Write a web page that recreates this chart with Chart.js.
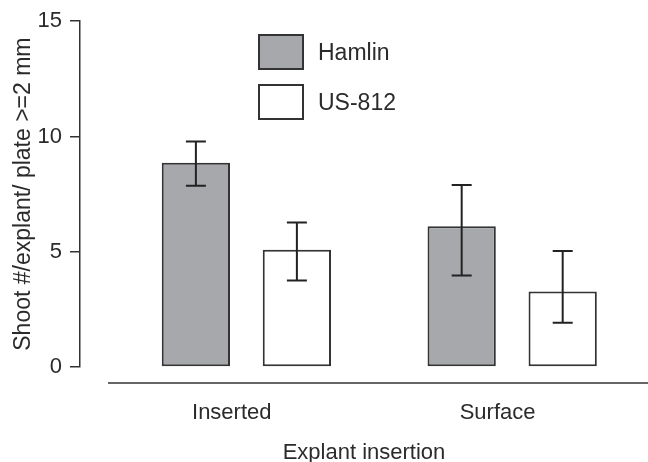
<!DOCTYPE html>
<html>
<head>
<meta charset="utf-8">
<script src="https://cdn.jsdelivr.net/npm/chart.js@4/dist/chart.umd.min.js"></script>
<style>
    body { margin: 0; background: #fff; }
    #wrap { position: relative; width: 648px; height: 462px; }
    .legend-item { position: absolute; display: flex; align-items: center; font-family: "Liberation Sans", Arial, sans-serif; font-size: 23px; color: #2b2b2b; }
    .legend-box { width: 46px; height: 36px; box-sizing: border-box; border: 2px solid #333; margin-right: 14px; }
</style>
</head>
<body>
<div id="wrap">
    <canvas id="chart" width="648" height="462"></canvas>
    <div id="legend"></div>
</div>
<script>
// data
const categories = ['Inserted', 'Surface'];
const seriesNames = ['Hamlin', 'US-812'];
const hamlinValues = [8.86, 6.10];
const hamlinLow = [7.86, 3.97];
const hamlinHigh = [9.78, 7.89];
const usValues = [5.09, 3.27];
const usLow = [3.75, 1.92];
const usHigh = [6.27, 5.03];
const yTicks = [0, 5, 10, 15];

const fillColors = ['#a7a8ab', '#ffffff'];
const textColor = '#2b2b2b';
const lineColor = '#333333';
const fontFamily = '"Liberation Sans", Arial, sans-serif';

// x positions of the groups (linear axis so the y axis can sit left of the first group)
const xMin = 0.374;
const xMax = 2.511;
const labelShift = -0.055;

const errLow = [hamlinLow, usLow];
const errHigh = [hamlinHigh, usHigh];

function toPoints(values) {
    return values.map((v, i) => ({ x: i + 1, y: v }));
}

// error bars
const errorBars = {
    id: 'errorBars',
    afterDatasetsDraw(chart) {
        let ctx = chart.ctx;
        let yScale = chart.scales.y;
        ctx.save();
        ctx.strokeStyle = '#222';
        ctx.lineWidth = 2;
        chart.data.datasets.forEach((ds, d) => {
            let meta = chart.getDatasetMeta(d);
            meta.data.forEach((bar, i) => {
                let x = bar.x;
                let top = yScale.getPixelForValue(errHigh[d][i]);
                let bottom = yScale.getPixelForValue(errLow[d][i]);
                ctx.beginPath();
                ctx.moveTo(x, top);
                ctx.lineTo(x, bottom);
                ctx.moveTo(x - 10, top);
                ctx.lineTo(x + 10, top);
                ctx.moveTo(x - 10, bottom);
                ctx.lineTo(x + 10, bottom);
                ctx.stroke();
            });
        });
        ctx.restore();
    }
};

// detached baseline under the bars
const baseline = {
    id: 'baseline',
    afterDraw(chart) {
        let ctx = chart.ctx;
        let y = chart.scales.y.getPixelForValue(0) + 16;
        ctx.save();
        ctx.strokeStyle = lineColor;
        ctx.lineWidth = 1.5;
        ctx.beginPath();
        ctx.moveTo(chart.chartArea.left + 28, y);
        ctx.lineTo(chart.width, y);
        ctx.stroke();
        ctx.restore();
    }
};

let ctx = document.getElementById('chart').getContext('2d');

new Chart(ctx, {
    type: 'bar',
    data: {
        datasets: [
            {
                label: seriesNames[0],
                data: toPoints(hamlinValues),
                backgroundColor: fillColors[0],
                borderColor: lineColor,
                borderWidth: 2,
                borderSkipped: false
            },
            {
                label: seriesNames[1],
                data: toPoints(usValues),
                backgroundColor: fillColors[1],
                borderColor: lineColor,
                borderWidth: 2,
                borderSkipped: false
            }
        ]
    },
    options: {
        responsive: false,
        animation: false,
        categoryPercentage: 0.76,
        barPercentage: 0.676,
        layout: { padding: { top: 19, left: 0, right: 0, bottom: 0 } },
        plugins: {
            legend: { display: false },
            tooltip: { enabled: false }
        },
        scales: {
            x: {
                type: 'linear',
                min: xMin,
                max: xMax,
                offset: false,
                grid: { display: false, drawTicks: false },
                border: { display: false },
                afterBuildTicks: (scale) => {
                    scale.ticks = categories.map((c, i) => ({ value: i + 1 + labelShift }));
                },
                afterFit: (scale) => { scale.height = 95; },
                ticks: {
                    autoSkip: false,
                    maxRotation: 0,
                    padding: 33,
                    color: textColor,
                    font: { family: fontFamily, size: 22 },
                    callback: (value, index) => categories[index]
                },
                title: {
                    display: true,
                    text: 'Explant insertion',
                    color: textColor,
                    font: { family: fontFamily, size: 22, lineHeight: 0.85 },
                    padding: { top: 0, bottom: 0 }
                }
            },
            y: {
                min: 0,
                max: 15,
                afterBuildTicks: (scale) => {
                    scale.ticks = yTicks.map(v => ({ value: v }));
                },
                afterFit: (scale) => { scale.width = 80; },
                grid: {
                    drawOnChartArea: false,
                    drawTicks: true,
                    tickLength: 10,
                    color: lineColor,
                    lineWidth: 1.5
                },
                border: { display: true, color: lineColor, width: 1.5 },
                ticks: {
                    padding: 8,
                    color: textColor,
                    font: { family: fontFamily, size: 22 }
                },
                title: {
                    display: true,
                    text: 'Shoot #/explant/ plate >=2 mm',
                    color: textColor,
                    font: { family: fontFamily, size: 23 },
                    padding: { top: 10, bottom: 0 }
                }
            }
        }
    },
    plugins: [errorBars, baseline]
});

// legend inside the plot
let legend = document.getElementById('legend');
seriesNames.forEach((name, i) => {
    let item = document.createElement('div');
    item.className = 'legend-item';
    item.style.left = '258px';
    item.style.top = (34 + i * 50) + 'px';
    item.innerHTML = `<div class="legend-box" style="background:${fillColors[i]}"></div><span>${name}</span>`;
    legend.appendChild(item);
});
</script>
</body>
</html>
